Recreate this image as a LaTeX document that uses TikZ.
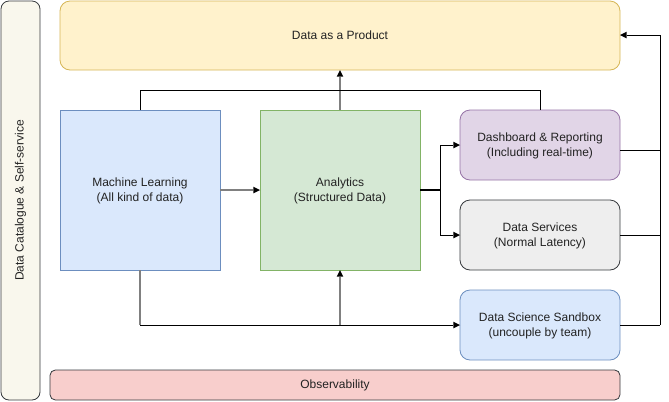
\documentclass[tikz,border=0pt]{standalone}
\usepackage{fontspec}
\setmainfont{Liberation Sans}
\usetikzlibrary{arrows.meta}
\definecolor{catfill}{HTML}{F9F7ED}
\definecolor{darkstroke}{HTML}{36393D}
\definecolor{yelfill}{HTML}{FFF2CC}
\definecolor{yelstroke}{HTML}{D6B656}
\definecolor{bluefill}{HTML}{DAE8FC}
\definecolor{bluestroke}{HTML}{6C8EBF}
\definecolor{greenfill}{HTML}{D5E8D4}
\definecolor{greenstroke}{HTML}{82B366}
\definecolor{purpfill}{HTML}{E1D5E7}
\definecolor{purpstroke}{HTML}{9673A6}
\definecolor{greyfill}{HTML}{EEEEEE}
\definecolor{redfill}{HTML}{F8CECC}
\definecolor{txt}{HTML}{222222}
\definecolor{grayline}{HTML}{808080}
\begin{document}
\begin{tikzpicture}[x=0.75pt,y=-0.75pt,
  every node/.style={font=\fontsize{9}{11}\selectfont, text=txt, align=center, inner sep=0pt},
  box/.style={draw, line width=0.6pt},
  rbox/.style={draw, line width=0.6pt, rounded corners=7.5pt},
  conn/.style={draw=black, line width=0.75pt},
  gconn/.style={draw=grayline, line width=1.2pt},
  arr/.style={-{Triangle[length=5pt,width=5pt,color=black,line width=0pt]}}
]
\useasboundingbox (0,0) rectangle (669,401);
% left catalogue
\draw[rbox, fill=catfill, draw=darkstroke, rounded corners=6pt] (1,1) rectangle (40,400);
\node[rotate=90] (cat) at (20.5,200.5) {Data Catalogue \& Self-service};
% boxes
\draw[rbox, fill=yelfill, draw=yelstroke] (60,1) rectangle (620,70);
\node (dap) at (340,35.5) {Data as a Product};
\coordinate (dapB) at (340,70);
\coordinate (dapR) at (620,35);

\draw[box, fill=bluefill, draw=bluestroke] (60,110) rectangle (220,270);
\node (ml) at (140,191) {Machine Learning\\(All kind of data)};
\coordinate (mlT) at (140,110);
\coordinate (mlB) at (140,270);
\coordinate (mlR) at (220,190);

\draw[box, fill=greenfill, draw=greenstroke] (260,110) rectangle (420,270);
\node (an) at (340,191) {Analytics\\(Structured Data)};
\coordinate (anT) at (340,110);
\coordinate (anB) at (340,270);
\coordinate (anL) at (260,190);
\coordinate (anR) at (420,190);

\draw[rbox, fill=purpfill, draw=purpstroke] (460,110) rectangle (620,180);
\node (db) at (540,146) {Dashboard \& Reporting\\(Including real-time)};
\coordinate (dbT) at (540,110);
\coordinate (dbL) at (460,145);
\coordinate (dbR) at (620,150);

\draw[rbox, fill=greyfill, draw=darkstroke] (460,200) rectangle (620,270);
\node (ds) at (540,236) {Data Services\\(Normal Latency)};
\coordinate (dsL) at (460,235);
\coordinate (dsR) at (620,235);

\draw[rbox, fill=bluefill, draw=bluestroke] (460,290) rectangle (620,360);
\node (sb) at (540,326) {Data Science Sandbox\\(uncouple by team)};
\coordinate (sbL) at (460,325);
\coordinate (sbR) at (620,325);

\draw[rbox, fill=redfill, draw=darkstroke, rounded corners=4pt] (50,370) rectangle (620,400);
\node (obs) at (335,385.5) {Observability};

% connectors
\draw[gconn, arr] (mlR) -- (anL);
\draw[gconn, arr] (anT) -- (dapB);
\draw[conn] (mlT) -- (140,90) -- (540,90) -- (dbT);
\draw[conn, line width=1.2pt] (anR) -- (440,190);
\draw[conn, arr] (440,190) |- (dbL);
\draw[conn, arr] (440,190) |- (dsL);
\draw[gconn] (mlB) -- (140,325);
\draw[conn, arr] (140,325) -- (sbL);
\draw[gconn, arr] (340,325) -- (anB);
\draw[conn] (dbR) -- (660,150);
\draw[conn] (dsR) -- (660,235);
\draw[conn] (sbR) -- (660,325);
\draw[conn, arr] (660,325) -- (660,35) -- (dapR);
\end{tikzpicture}
\end{document}
